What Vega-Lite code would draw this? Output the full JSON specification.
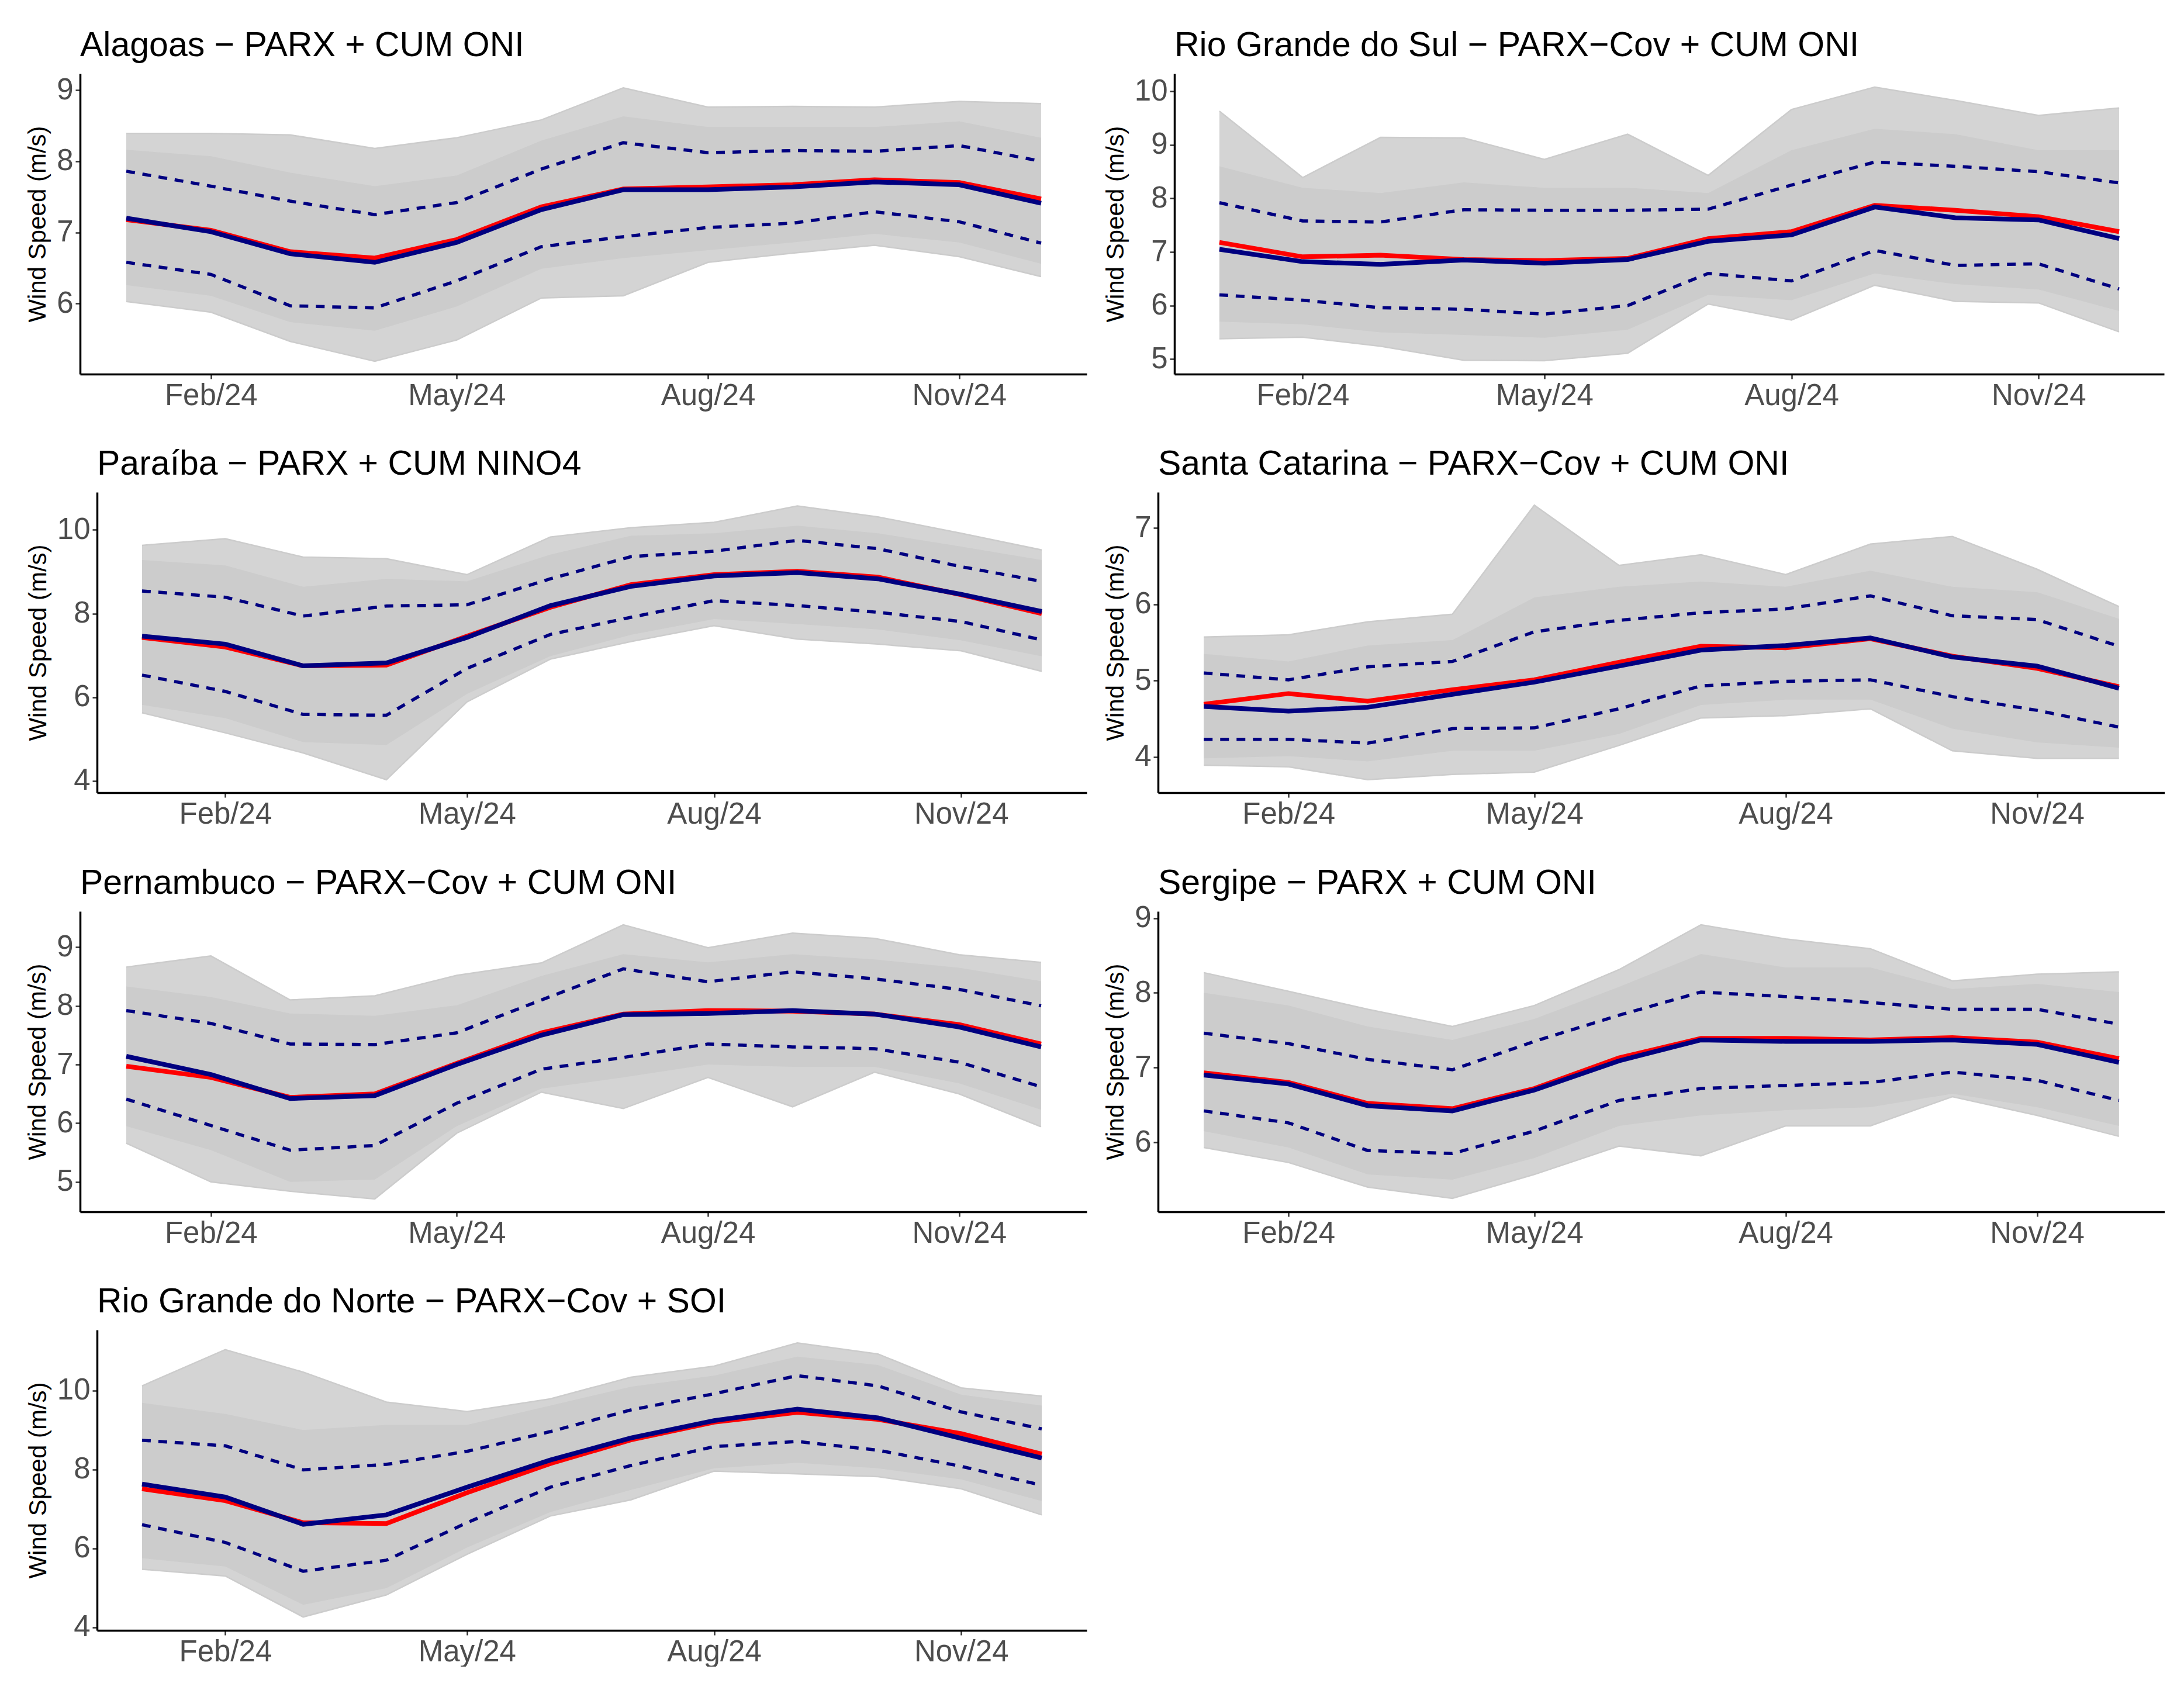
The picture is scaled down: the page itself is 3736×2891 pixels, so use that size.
{
"$schema": "https://vega.github.io/schema/vega-lite/v6.json",
"background": "white",
"padding": {"left": 43, "top": 49, "right": 0, "bottom": 0},
"datasets": {"d": [
{"p":"AL","d":"2024-01-01T00:00:00","mn":6.03,"mx":8.39,"clo":6.26,"chi":8.16,"qlo":6.58,"qhi":7.86,"obs":7.18,"avg":7.20},
{"p":"AL","d":"2024-02-01T00:00:00","mn":5.88,"mx":8.39,"clo":6.11,"chi":8.07,"qlo":6.41,"qhi":7.65,"obs":7.03,"avg":7.01},
{"p":"AL","d":"2024-03-01T00:00:00","mn":5.47,"mx":8.37,"clo":5.74,"chi":7.84,"qlo":5.97,"qhi":7.44,"obs":6.73,"avg":6.70},
{"p":"AL","d":"2024-04-01T00:00:00","mn":5.19,"mx":8.18,"clo":5.62,"chi":7.65,"qlo":5.94,"qhi":7.25,"obs":6.64,"avg":6.58},
{"p":"AL","d":"2024-05-01T00:00:00","mn":5.49,"mx":8.33,"clo":5.96,"chi":7.80,"qlo":6.32,"qhi":7.42,"obs":6.90,"avg":6.86},
{"p":"AL","d":"2024-06-01T00:00:00","mn":6.08,"mx":8.58,"clo":6.49,"chi":8.29,"qlo":6.80,"qhi":7.89,"obs":7.36,"avg":7.32},
{"p":"AL","d":"2024-07-01T00:00:00","mn":6.11,"mx":9.03,"clo":6.64,"chi":8.63,"qlo":6.94,"qhi":8.26,"obs":7.61,"avg":7.60},
{"p":"AL","d":"2024-08-01T00:00:00","mn":6.58,"mx":8.76,"clo":6.75,"chi":8.48,"qlo":7.07,"qhi":8.12,"obs":7.64,"avg":7.60},
{"p":"AL","d":"2024-09-01T00:00:00","mn":6.71,"mx":8.77,"clo":6.86,"chi":8.48,"qlo":7.13,"qhi":8.15,"obs":7.67,"avg":7.64},
{"p":"AL","d":"2024-10-01T00:00:00","mn":6.82,"mx":8.76,"clo":6.98,"chi":8.48,"qlo":7.29,"qhi":8.14,"obs":7.74,"avg":7.71},
{"p":"AL","d":"2024-11-01T00:00:00","mn":6.66,"mx":8.84,"clo":6.86,"chi":8.56,"qlo":7.15,"qhi":8.22,"obs":7.70,"avg":7.67},
{"p":"AL","d":"2024-12-01T00:00:00","mn":6.38,"mx":8.81,"clo":6.56,"chi":8.33,"qlo":6.85,"qhi":8.00,"obs":7.47,"avg":7.41},
{"p":"RS","d":"2024-01-01T00:00:00","mn":5.38,"mx":9.63,"clo":5.70,"chi":8.60,"qlo":6.20,"qhi":7.92,"obs":7.18,"avg":7.05},
{"p":"RS","d":"2024-02-01T00:00:00","mn":5.41,"mx":8.39,"clo":5.65,"chi":8.20,"qlo":6.10,"qhi":7.58,"obs":6.91,"avg":6.82},
{"p":"RS","d":"2024-03-01T00:00:00","mn":5.24,"mx":9.14,"clo":5.50,"chi":8.10,"qlo":5.96,"qhi":7.56,"obs":6.94,"avg":6.77},
{"p":"RS","d":"2024-04-01T00:00:00","mn":4.98,"mx":9.13,"clo":5.45,"chi":8.30,"qlo":5.93,"qhi":7.79,"obs":6.86,"avg":6.85},
{"p":"RS","d":"2024-05-01T00:00:00","mn":4.97,"mx":8.73,"clo":5.40,"chi":8.20,"qlo":5.84,"qhi":7.78,"obs":6.84,"avg":6.79},
{"p":"RS","d":"2024-06-01T00:00:00","mn":5.11,"mx":9.20,"clo":5.55,"chi":8.20,"qlo":6.00,"qhi":7.78,"obs":6.88,"avg":6.86},
{"p":"RS","d":"2024-07-01T00:00:00","mn":6.03,"mx":8.43,"clo":6.20,"chi":8.10,"qlo":6.60,"qhi":7.80,"obs":7.25,"avg":7.20},
{"p":"RS","d":"2024-08-01T00:00:00","mn":5.73,"mx":9.66,"clo":6.10,"chi":8.90,"qlo":6.46,"qhi":8.25,"obs":7.38,"avg":7.32},
{"p":"RS","d":"2024-09-01T00:00:00","mn":6.38,"mx":10.08,"clo":6.60,"chi":9.30,"qlo":7.03,"qhi":8.68,"obs":7.87,"avg":7.84},
{"p":"RS","d":"2024-10-01T00:00:00","mn":6.08,"mx":9.83,"clo":6.40,"chi":9.20,"qlo":6.75,"qhi":8.60,"obs":7.78,"avg":7.64},
{"p":"RS","d":"2024-11-01T00:00:00","mn":6.05,"mx":9.55,"clo":6.30,"chi":8.90,"qlo":6.78,"qhi":8.50,"obs":7.66,"avg":7.60},
{"p":"RS","d":"2024-12-01T00:00:00","mn":5.51,"mx":9.69,"clo":5.90,"chi":8.90,"qlo":6.31,"qhi":8.29,"obs":7.38,"avg":7.25},
{"p":"PB","d":"2024-01-01T00:00:00","mn":5.63,"mx":9.63,"clo":5.82,"chi":9.28,"qlo":6.53,"qhi":8.54,"obs":7.43,"avg":7.46},
{"p":"PB","d":"2024-02-01T00:00:00","mn":5.15,"mx":9.79,"clo":5.50,"chi":9.15,"qlo":6.14,"qhi":8.39,"obs":7.20,"avg":7.27},
{"p":"PB","d":"2024-03-01T00:00:00","mn":4.67,"mx":9.35,"clo":4.93,"chi":8.64,"qlo":5.59,"qhi":7.94,"obs":6.75,"avg":6.75},
{"p":"PB","d":"2024-04-01T00:00:00","mn":4.03,"mx":9.31,"clo":4.86,"chi":8.83,"qlo":5.57,"qhi":8.18,"obs":6.77,"avg":6.82},
{"p":"PB","d":"2024-05-01T00:00:00","mn":5.89,"mx":8.93,"clo":6.08,"chi":8.77,"qlo":6.69,"qhi":8.21,"obs":7.46,"avg":7.43},
{"p":"PB","d":"2024-06-01T00:00:00","mn":6.91,"mx":9.83,"clo":6.98,"chi":9.41,"qlo":7.50,"qhi":8.83,"obs":8.15,"avg":8.19},
{"p":"PB","d":"2024-07-01T00:00:00","mn":7.33,"mx":10.05,"clo":7.49,"chi":9.86,"qlo":7.91,"qhi":9.36,"obs":8.69,"avg":8.65},
{"p":"PB","d":"2024-08-01T00:00:00","mn":7.71,"mx":10.18,"clo":7.87,"chi":9.92,"qlo":8.31,"qhi":9.49,"obs":8.93,"avg":8.90},
{"p":"PB","d":"2024-09-01T00:00:00","mn":7.39,"mx":10.57,"clo":7.75,"chi":10.10,"qlo":8.19,"qhi":9.75,"obs":9.01,"avg":8.98},
{"p":"PB","d":"2024-10-01T00:00:00","mn":7.27,"mx":10.31,"clo":7.62,"chi":9.92,"qlo":8.03,"qhi":9.55,"obs":8.87,"avg":8.83},
{"p":"PB","d":"2024-11-01T00:00:00","mn":7.11,"mx":9.92,"clo":7.36,"chi":9.60,"qlo":7.81,"qhi":9.12,"obs":8.45,"avg":8.46},
{"p":"PB","d":"2024-12-01T00:00:00","mn":6.62,"mx":9.52,"clo":6.98,"chi":9.28,"qlo":7.37,"qhi":8.77,"obs":8.00,"avg":8.05},
{"p":"SC","d":"2024-01-01T00:00:00","mn":3.89,"mx":5.57,"clo":3.98,"chi":5.35,"qlo":4.23,"qhi":5.10,"obs":4.69,"avg":4.66},
{"p":"SC","d":"2024-02-01T00:00:00","mn":3.87,"mx":5.60,"clo":4.01,"chi":5.25,"qlo":4.23,"qhi":5.01,"obs":4.83,"avg":4.60},
{"p":"SC","d":"2024-03-01T00:00:00","mn":3.70,"mx":5.77,"clo":3.94,"chi":5.46,"qlo":4.18,"qhi":5.18,"obs":4.73,"avg":4.65},
{"p":"SC","d":"2024-04-01T00:00:00","mn":3.77,"mx":5.87,"clo":4.08,"chi":5.53,"qlo":4.37,"qhi":5.25,"obs":4.88,"avg":4.82},
{"p":"SC","d":"2024-05-01T00:00:00","mn":3.80,"mx":7.30,"clo":4.08,"chi":6.09,"qlo":4.38,"qhi":5.64,"obs":5.01,"avg":4.98},
{"p":"SC","d":"2024-06-01T00:00:00","mn":4.15,"mx":6.51,"clo":4.30,"chi":6.23,"qlo":4.63,"qhi":5.79,"obs":5.24,"avg":5.19},
{"p":"SC","d":"2024-07-01T00:00:00","mn":4.51,"mx":6.65,"clo":4.68,"chi":6.30,"qlo":4.93,"qhi":5.89,"obs":5.45,"avg":5.40},
{"p":"SC","d":"2024-08-01T00:00:00","mn":4.54,"mx":6.39,"clo":4.75,"chi":6.23,"qlo":4.99,"qhi":5.94,"obs":5.43,"avg":5.46},
{"p":"SC","d":"2024-09-01T00:00:00","mn":4.63,"mx":6.79,"clo":4.75,"chi":6.44,"qlo":5.01,"qhi":6.11,"obs":5.55,"avg":5.56},
{"p":"SC","d":"2024-10-01T00:00:00","mn":4.08,"mx":6.89,"clo":4.37,"chi":6.23,"qlo":4.79,"qhi":5.85,"obs":5.32,"avg":5.31},
{"p":"SC","d":"2024-11-01T00:00:00","mn":3.98,"mx":6.46,"clo":4.19,"chi":6.16,"qlo":4.61,"qhi":5.80,"obs":5.16,"avg":5.19},
{"p":"SC","d":"2024-12-01T00:00:00","mn":3.98,"mx":5.97,"clo":4.12,"chi":5.81,"qlo":4.39,"qhi":5.45,"obs":4.92,"avg":4.90},
{"p":"PE","d":"2024-01-01T00:00:00","mn":5.66,"mx":8.66,"clo":5.95,"chi":8.33,"qlo":6.41,"qhi":7.92,"obs":6.97,"avg":7.14},
{"p":"PE","d":"2024-02-01T00:00:00","mn":5.00,"mx":8.85,"clo":5.54,"chi":8.15,"qlo":5.96,"qhi":7.70,"obs":6.78,"avg":6.83},
{"p":"PE","d":"2024-03-01T00:00:00","mn":4.84,"mx":8.10,"clo":5.00,"chi":7.87,"qlo":5.54,"qhi":7.35,"obs":6.44,"avg":6.42},
{"p":"PE","d":"2024-04-01T00:00:00","mn":4.71,"mx":8.17,"clo":5.04,"chi":7.83,"qlo":5.62,"qhi":7.34,"obs":6.50,"avg":6.47},
{"p":"PE","d":"2024-05-01T00:00:00","mn":5.83,"mx":8.52,"clo":5.95,"chi":8.01,"qlo":6.34,"qhi":7.54,"obs":7.02,"avg":7.00},
{"p":"PE","d":"2024-06-01T00:00:00","mn":6.53,"mx":8.73,"clo":6.59,"chi":8.51,"qlo":6.92,"qhi":8.10,"obs":7.54,"avg":7.50},
{"p":"PE","d":"2024-07-01T00:00:00","mn":6.25,"mx":9.38,"clo":6.78,"chi":8.88,"qlo":7.12,"qhi":8.63,"obs":7.86,"avg":7.85},
{"p":"PE","d":"2024-08-01T00:00:00","mn":6.78,"mx":8.99,"clo":7.00,"chi":8.74,"qlo":7.35,"qhi":8.41,"obs":7.92,"avg":7.87},
{"p":"PE","d":"2024-09-01T00:00:00","mn":6.28,"mx":9.24,"clo":6.96,"chi":8.88,"qlo":7.30,"qhi":8.58,"obs":7.91,"avg":7.92},
{"p":"PE","d":"2024-10-01T00:00:00","mn":6.87,"mx":9.15,"clo":6.96,"chi":8.79,"qlo":7.27,"qhi":8.46,"obs":7.86,"avg":7.86},
{"p":"PE","d":"2024-11-01T00:00:00","mn":6.50,"mx":8.87,"clo":6.68,"chi":8.65,"qlo":7.04,"qhi":8.28,"obs":7.68,"avg":7.64},
{"p":"PE","d":"2024-12-01T00:00:00","mn":5.94,"mx":8.74,"clo":6.23,"chi":8.42,"qlo":6.62,"qhi":8.00,"obs":7.35,"avg":7.30},
{"p":"SE","d":"2024-01-01T00:00:00","mn":5.93,"mx":8.27,"clo":6.15,"chi":8.00,"qlo":6.42,"qhi":7.46,"obs":6.93,"avg":6.90},
{"p":"SE","d":"2024-02-01T00:00:00","mn":5.73,"mx":8.02,"clo":5.93,"chi":7.83,"qlo":6.26,"qhi":7.32,"obs":6.80,"avg":6.78},
{"p":"SE","d":"2024-03-01T00:00:00","mn":5.40,"mx":7.78,"clo":5.57,"chi":7.55,"qlo":5.89,"qhi":7.11,"obs":6.52,"avg":6.49},
{"p":"SE","d":"2024-04-01T00:00:00","mn":5.25,"mx":7.55,"clo":5.50,"chi":7.37,"qlo":5.85,"qhi":6.97,"obs":6.45,"avg":6.42},
{"p":"SE","d":"2024-05-01T00:00:00","mn":5.57,"mx":7.83,"clo":5.79,"chi":7.65,"qlo":6.15,"qhi":7.35,"obs":6.72,"avg":6.70},
{"p":"SE","d":"2024-06-01T00:00:00","mn":5.95,"mx":8.31,"clo":6.22,"chi":8.08,"qlo":6.56,"qhi":7.70,"obs":7.13,"avg":7.09},
{"p":"SE","d":"2024-07-01T00:00:00","mn":5.82,"mx":8.91,"clo":6.36,"chi":8.52,"qlo":6.72,"qhi":8.01,"obs":7.39,"avg":7.37},
{"p":"SE","d":"2024-08-01T00:00:00","mn":6.22,"mx":8.72,"clo":6.43,"chi":8.34,"qlo":6.76,"qhi":7.95,"obs":7.39,"avg":7.35},
{"p":"SE","d":"2024-09-01T00:00:00","mn":6.22,"mx":8.59,"clo":6.47,"chi":8.34,"qlo":6.80,"qhi":7.87,"obs":7.37,"avg":7.35},
{"p":"SE","d":"2024-10-01T00:00:00","mn":6.61,"mx":8.16,"clo":6.65,"chi":8.05,"qlo":6.94,"qhi":7.78,"obs":7.40,"avg":7.37},
{"p":"SE","d":"2024-11-01T00:00:00","mn":6.36,"mx":8.25,"clo":6.47,"chi":8.12,"qlo":6.83,"qhi":7.78,"obs":7.34,"avg":7.31},
{"p":"SE","d":"2024-12-01T00:00:00","mn":6.08,"mx":8.28,"clo":6.22,"chi":8.01,"qlo":6.56,"qhi":7.58,"obs":7.12,"avg":7.07},
{"p":"RN","d":"2024-01-01T00:00:00","mn":5.47,"mx":10.12,"clo":5.75,"chi":9.69,"qlo":6.60,"qhi":8.74,"obs":7.51,"avg":7.63},
{"p":"RN","d":"2024-02-01T00:00:00","mn":5.30,"mx":11.04,"clo":5.54,"chi":9.41,"qlo":6.15,"qhi":8.60,"obs":7.21,"avg":7.30},
{"p":"RN","d":"2024-03-01T00:00:00","mn":4.26,"mx":10.47,"clo":4.57,"chi":9.00,"qlo":5.42,"qhi":7.99,"obs":6.65,"avg":6.61},
{"p":"RN","d":"2024-04-01T00:00:00","mn":4.82,"mx":9.71,"clo":4.99,"chi":9.13,"qlo":5.70,"qhi":8.13,"obs":6.63,"avg":6.85},
{"p":"RN","d":"2024-05-01T00:00:00","mn":5.85,"mx":9.47,"clo":6.02,"chi":9.13,"qlo":6.65,"qhi":8.46,"obs":7.41,"avg":7.55},
{"p":"RN","d":"2024-06-01T00:00:00","mn":6.82,"mx":9.79,"clo":6.92,"chi":9.62,"qlo":7.55,"qhi":8.96,"obs":8.15,"avg":8.24},
{"p":"RN","d":"2024-07-01T00:00:00","mn":7.23,"mx":10.34,"clo":7.48,"chi":10.10,"qlo":8.10,"qhi":9.51,"obs":8.75,"avg":8.80},
{"p":"RN","d":"2024-08-01T00:00:00","mn":7.96,"mx":10.62,"clo":8.03,"chi":10.38,"qlo":8.58,"qhi":9.92,"obs":9.20,"avg":9.24},
{"p":"RN","d":"2024-09-01T00:00:00","mn":7.89,"mx":11.21,"clo":8.17,"chi":10.86,"qlo":8.71,"qhi":10.38,"obs":9.45,"avg":9.53},
{"p":"RN","d":"2024-10-01T00:00:00","mn":7.82,"mx":10.93,"clo":8.03,"chi":10.65,"qlo":8.49,"qhi":10.12,"obs":9.27,"avg":9.31},
{"p":"RN","d":"2024-11-01T00:00:00","mn":7.51,"mx":10.07,"clo":7.75,"chi":9.90,"qlo":8.08,"qhi":9.46,"obs":8.91,"avg":8.79},
{"p":"RN","d":"2024-12-01T00:00:00","mn":6.85,"mx":9.86,"clo":7.20,"chi":9.62,"qlo":7.60,"qhi":9.03,"obs":8.39,"avg":8.29}
]},
"vconcat": [
{"hconcat": [
{"width": 1722, "height": 514, "data": {"name": "d"}, "title": {"text": "Alagoas − PARX + CUM ONI"},
 "transform": [{"filter": "datum.p === 'AL'"}],
 "encoding": {"x": {"field": "d", "type": "temporal", "title": null, "scale": {"domain": [{"year": 2023, "month": 12, "date": 15, "hours": 2}, {"year": 2024, "month": 12, "date": 17, "hours": 17}], "nice": false}, "axis": {"values": [{"year": 2024, "month": 2, "date": 1}, {"year": 2024, "month": 5, "date": 1}, {"year": 2024, "month": 8, "date": 1}, {"year": 2024, "month": 11, "date": 1}], "format": "%b/%y"}}},
 "layer": [
  {"mark": {"type": "area", "color": "#D4D4D4"}, "encoding": {"y": {"field": "mn", "type": "quantitative", "title": "Wind Speed (m/s)", "scale": {"domain": [5.01, 9.23], "nice": false, "zero": false}, "axis": {"values": [5, 6, 7, 8, 9], "format": "d"}}, "y2": {"field": "mx", "title": "Wind Speed (m/s)"}}},
  {"mark": {"type": "line", "color": "#CCCCCC", "strokeWidth": 2.5}, "encoding": {"y": {"field": "mx", "type": "quantitative", "title": "Wind Speed (m/s)"}}},
  {"mark": {"type": "line", "color": "#CCCCCC", "strokeWidth": 2.5}, "encoding": {"y": {"field": "mn", "type": "quantitative", "title": "Wind Speed (m/s)"}}},
  {"mark": {"type": "area", "color": "#CCCCCC"}, "encoding": {"y": {"field": "clo", "type": "quantitative", "title": "Wind Speed (m/s)"}, "y2": {"field": "chi", "title": "Wind Speed (m/s)"}}},
  {"mark": {"type": "line", "color": "#000080", "strokeWidth": 5.5, "strokeDash": [15, 13]}, "encoding": {"y": {"field": "qhi", "type": "quantitative", "title": "Wind Speed (m/s)"}}},
  {"mark": {"type": "line", "color": "#000080", "strokeWidth": 5.5, "strokeDash": [15, 13]}, "encoding": {"y": {"field": "qlo", "type": "quantitative", "title": "Wind Speed (m/s)"}}},
  {"mark": {"type": "line", "color": "#FF0000", "strokeWidth": 8}, "encoding": {"y": {"field": "obs", "type": "quantitative", "title": "Wind Speed (m/s)"}}},
  {"mark": {"type": "line", "color": "#000080", "strokeWidth": 8}, "encoding": {"y": {"field": "avg", "type": "quantitative", "title": "Wind Speed (m/s)"}}}
 ]},
{"width": 1693, "height": 514, "data": {"name": "d"}, "title": {"text": "Rio Grande do Sul − PARX−Cov + CUM ONI"},
 "transform": [{"filter": "datum.p === 'RS'"}],
 "encoding": {"x": {"field": "d", "type": "temporal", "title": null, "scale": {"domain": [{"year": 2023, "month": 12, "date": 15, "hours": 6}, {"year": 2024, "month": 12, "date": 17, "hours": 18}], "nice": false}, "axis": {"values": [{"year": 2024, "month": 2, "date": 1}, {"year": 2024, "month": 5, "date": 1}, {"year": 2024, "month": 8, "date": 1}, {"year": 2024, "month": 11, "date": 1}], "format": "%b/%y"}}},
 "layer": [
  {"mark": {"type": "area", "color": "#D4D4D4"}, "encoding": {"y": {"field": "mn", "type": "quantitative", "title": "Wind Speed (m/s)", "scale": {"domain": [4.72, 10.33], "nice": false, "zero": false}, "axis": {"values": [5, 6, 7, 8, 9, 10], "format": "d"}}, "y2": {"field": "mx", "title": "Wind Speed (m/s)"}}},
  {"mark": {"type": "line", "color": "#CCCCCC", "strokeWidth": 2.5}, "encoding": {"y": {"field": "mx", "type": "quantitative", "title": "Wind Speed (m/s)"}}},
  {"mark": {"type": "line", "color": "#CCCCCC", "strokeWidth": 2.5}, "encoding": {"y": {"field": "mn", "type": "quantitative", "title": "Wind Speed (m/s)"}}},
  {"mark": {"type": "area", "color": "#CCCCCC"}, "encoding": {"y": {"field": "clo", "type": "quantitative", "title": "Wind Speed (m/s)"}, "y2": {"field": "chi", "title": "Wind Speed (m/s)"}}},
  {"mark": {"type": "line", "color": "#000080", "strokeWidth": 5.5, "strokeDash": [15, 13]}, "encoding": {"y": {"field": "qhi", "type": "quantitative", "title": "Wind Speed (m/s)"}}},
  {"mark": {"type": "line", "color": "#000080", "strokeWidth": 5.5, "strokeDash": [15, 13]}, "encoding": {"y": {"field": "qlo", "type": "quantitative", "title": "Wind Speed (m/s)"}}},
  {"mark": {"type": "line", "color": "#FF0000", "strokeWidth": 8}, "encoding": {"y": {"field": "obs", "type": "quantitative", "title": "Wind Speed (m/s)"}}},
  {"mark": {"type": "line", "color": "#000080", "strokeWidth": 8}, "encoding": {"y": {"field": "avg", "type": "quantitative", "title": "Wind Speed (m/s)"}}}
 ]}
], "spacing": 28},
{"hconcat": [
{"width": 1722, "height": 514, "data": {"name": "d"}, "title": {"text": "Paraíba − PARX + CUM NINO4", "dx": 29},
 "transform": [{"filter": "datum.p === 'PB'"}],
 "encoding": {"x": {"field": "d", "type": "temporal", "title": null, "scale": {"domain": [{"year": 2023, "month": 12, "date": 8, "hours": 22, "minutes": 34}, {"year": 2024, "month": 12, "date": 17, "hours": 18}], "nice": false}, "axis": {"domainDash": [0, 29, 3000], "values": [{"year": 2024, "month": 2, "date": 1}, {"year": 2024, "month": 5, "date": 1}, {"year": 2024, "month": 8, "date": 1}, {"year": 2024, "month": 11, "date": 1}], "format": "%b/%y"}}},
 "layer": [
  {"mark": {"type": "area", "color": "#D4D4D4"}, "encoding": {"y": {"field": "mn", "type": "quantitative", "title": "Wind Speed (m/s)", "scale": {"domain": [3.72, 10.9], "nice": false, "zero": false}, "axis": {"values": [4, 6, 8, 10], "format": "d", "offset": -29}}, "y2": {"field": "mx", "title": "Wind Speed (m/s)"}}},
  {"mark": {"type": "line", "color": "#CCCCCC", "strokeWidth": 2.5}, "encoding": {"y": {"field": "mx", "type": "quantitative", "title": "Wind Speed (m/s)"}}},
  {"mark": {"type": "line", "color": "#CCCCCC", "strokeWidth": 2.5}, "encoding": {"y": {"field": "mn", "type": "quantitative", "title": "Wind Speed (m/s)"}}},
  {"mark": {"type": "area", "color": "#CCCCCC"}, "encoding": {"y": {"field": "clo", "type": "quantitative", "title": "Wind Speed (m/s)"}, "y2": {"field": "chi", "title": "Wind Speed (m/s)"}}},
  {"mark": {"type": "line", "color": "#000080", "strokeWidth": 5.5, "strokeDash": [15, 13]}, "encoding": {"y": {"field": "qhi", "type": "quantitative", "title": "Wind Speed (m/s)"}}},
  {"mark": {"type": "line", "color": "#000080", "strokeWidth": 5.5, "strokeDash": [15, 13]}, "encoding": {"y": {"field": "qlo", "type": "quantitative", "title": "Wind Speed (m/s)"}}},
  {"mark": {"type": "line", "color": "#FF0000", "strokeWidth": 8}, "encoding": {"y": {"field": "obs", "type": "quantitative", "title": "Wind Speed (m/s)"}}},
  {"mark": {"type": "line", "color": "#000080", "strokeWidth": 8}, "encoding": {"y": {"field": "avg", "type": "quantitative", "title": "Wind Speed (m/s)"}}}
 ]},
{"width": 1722, "height": 514, "data": {"name": "d"}, "title": {"text": "Santa Catarina − PARX−Cov + CUM ONI"},
 "transform": [{"filter": "datum.p === 'SC'"}],
 "encoding": {"x": {"field": "d", "type": "temporal", "title": null, "scale": {"domain": [{"year": 2023, "month": 12, "date": 15, "hours": 6}, {"year": 2024, "month": 12, "date": 17, "hours": 18}], "nice": false}, "axis": {"values": [{"year": 2024, "month": 2, "date": 1}, {"year": 2024, "month": 5, "date": 1}, {"year": 2024, "month": 8, "date": 1}, {"year": 2024, "month": 11, "date": 1}], "format": "%b/%y"}}},
 "layer": [
  {"mark": {"type": "area", "color": "#D4D4D4"}, "encoding": {"y": {"field": "mn", "type": "quantitative", "title": "Wind Speed (m/s)", "scale": {"domain": [3.53, 7.47], "nice": false, "zero": false}, "axis": {"values": [4, 5, 6, 7], "format": "d"}}, "y2": {"field": "mx", "title": "Wind Speed (m/s)"}}},
  {"mark": {"type": "line", "color": "#CCCCCC", "strokeWidth": 2.5}, "encoding": {"y": {"field": "mx", "type": "quantitative", "title": "Wind Speed (m/s)"}}},
  {"mark": {"type": "line", "color": "#CCCCCC", "strokeWidth": 2.5}, "encoding": {"y": {"field": "mn", "type": "quantitative", "title": "Wind Speed (m/s)"}}},
  {"mark": {"type": "area", "color": "#CCCCCC"}, "encoding": {"y": {"field": "clo", "type": "quantitative", "title": "Wind Speed (m/s)"}, "y2": {"field": "chi", "title": "Wind Speed (m/s)"}}},
  {"mark": {"type": "line", "color": "#000080", "strokeWidth": 5.5, "strokeDash": [15, 13]}, "encoding": {"y": {"field": "qhi", "type": "quantitative", "title": "Wind Speed (m/s)"}}},
  {"mark": {"type": "line", "color": "#000080", "strokeWidth": 5.5, "strokeDash": [15, 13]}, "encoding": {"y": {"field": "qlo", "type": "quantitative", "title": "Wind Speed (m/s)"}}},
  {"mark": {"type": "line", "color": "#FF0000", "strokeWidth": 8}, "encoding": {"y": {"field": "obs", "type": "quantitative", "title": "Wind Speed (m/s)"}}},
  {"mark": {"type": "line", "color": "#000080", "strokeWidth": 8}, "encoding": {"y": {"field": "avg", "type": "quantitative", "title": "Wind Speed (m/s)"}}}
 ]}
], "spacing": 28},
{"hconcat": [
{"width": 1722, "height": 514, "data": {"name": "d"}, "title": {"text": "Pernambuco − PARX−Cov + CUM ONI"},
 "transform": [{"filter": "datum.p === 'PE'"}],
 "encoding": {"x": {"field": "d", "type": "temporal", "title": null, "scale": {"domain": [{"year": 2023, "month": 12, "date": 15, "hours": 2}, {"year": 2024, "month": 12, "date": 17, "hours": 17}], "nice": false}, "axis": {"values": [{"year": 2024, "month": 2, "date": 1}, {"year": 2024, "month": 5, "date": 1}, {"year": 2024, "month": 8, "date": 1}, {"year": 2024, "month": 11, "date": 1}], "format": "%b/%y"}}},
 "layer": [
  {"mark": {"type": "area", "color": "#D4D4D4"}, "encoding": {"y": {"field": "mn", "type": "quantitative", "title": "Wind Speed (m/s)", "scale": {"domain": [4.49, 9.61], "nice": false, "zero": false}, "axis": {"values": [5, 6, 7, 8, 9], "format": "d"}}, "y2": {"field": "mx", "title": "Wind Speed (m/s)"}}},
  {"mark": {"type": "line", "color": "#CCCCCC", "strokeWidth": 2.5}, "encoding": {"y": {"field": "mx", "type": "quantitative", "title": "Wind Speed (m/s)"}}},
  {"mark": {"type": "line", "color": "#CCCCCC", "strokeWidth": 2.5}, "encoding": {"y": {"field": "mn", "type": "quantitative", "title": "Wind Speed (m/s)"}}},
  {"mark": {"type": "area", "color": "#CCCCCC"}, "encoding": {"y": {"field": "clo", "type": "quantitative", "title": "Wind Speed (m/s)"}, "y2": {"field": "chi", "title": "Wind Speed (m/s)"}}},
  {"mark": {"type": "line", "color": "#000080", "strokeWidth": 5.5, "strokeDash": [15, 13]}, "encoding": {"y": {"field": "qhi", "type": "quantitative", "title": "Wind Speed (m/s)"}}},
  {"mark": {"type": "line", "color": "#000080", "strokeWidth": 5.5, "strokeDash": [15, 13]}, "encoding": {"y": {"field": "qlo", "type": "quantitative", "title": "Wind Speed (m/s)"}}},
  {"mark": {"type": "line", "color": "#FF0000", "strokeWidth": 8}, "encoding": {"y": {"field": "obs", "type": "quantitative", "title": "Wind Speed (m/s)"}}},
  {"mark": {"type": "line", "color": "#000080", "strokeWidth": 8}, "encoding": {"y": {"field": "avg", "type": "quantitative", "title": "Wind Speed (m/s)"}}}
 ]},
{"width": 1722, "height": 514, "data": {"name": "d"}, "title": {"text": "Sergipe − PARX + CUM ONI", "offset": 4},
 "transform": [{"filter": "datum.p === 'SE'"}],
 "encoding": {"x": {"field": "d", "type": "temporal", "title": null, "scale": {"domain": [{"year": 2023, "month": 12, "date": 15, "hours": 6}, {"year": 2024, "month": 12, "date": 17, "hours": 18}], "nice": false}, "axis": {"values": [{"year": 2024, "month": 2, "date": 1}, {"year": 2024, "month": 5, "date": 1}, {"year": 2024, "month": 8, "date": 1}, {"year": 2024, "month": 11, "date": 1}], "format": "%b/%y"}}},
 "layer": [
  {"mark": {"type": "area", "color": "#D4D4D4"}, "encoding": {"y": {"field": "mn", "type": "quantitative", "title": "Wind Speed (m/s)", "scale": {"domain": [5.07, 9.09], "nice": false, "zero": false}, "axis": {"values": [6, 7, 8, 9], "format": "d"}}, "y2": {"field": "mx", "title": "Wind Speed (m/s)"}}},
  {"mark": {"type": "line", "color": "#CCCCCC", "strokeWidth": 2.5}, "encoding": {"y": {"field": "mx", "type": "quantitative", "title": "Wind Speed (m/s)"}}},
  {"mark": {"type": "line", "color": "#CCCCCC", "strokeWidth": 2.5}, "encoding": {"y": {"field": "mn", "type": "quantitative", "title": "Wind Speed (m/s)"}}},
  {"mark": {"type": "area", "color": "#CCCCCC"}, "encoding": {"y": {"field": "clo", "type": "quantitative", "title": "Wind Speed (m/s)"}, "y2": {"field": "chi", "title": "Wind Speed (m/s)"}}},
  {"mark": {"type": "line", "color": "#000080", "strokeWidth": 5.5, "strokeDash": [15, 13]}, "encoding": {"y": {"field": "qhi", "type": "quantitative", "title": "Wind Speed (m/s)"}}},
  {"mark": {"type": "line", "color": "#000080", "strokeWidth": 5.5, "strokeDash": [15, 13]}, "encoding": {"y": {"field": "qlo", "type": "quantitative", "title": "Wind Speed (m/s)"}}},
  {"mark": {"type": "line", "color": "#FF0000", "strokeWidth": 8}, "encoding": {"y": {"field": "obs", "type": "quantitative", "title": "Wind Speed (m/s)"}}},
  {"mark": {"type": "line", "color": "#000080", "strokeWidth": 8}, "encoding": {"y": {"field": "avg", "type": "quantitative", "title": "Wind Speed (m/s)"}}}
 ]}
], "spacing": 28},
{"hconcat": [
{"width": 1722, "height": 514, "data": {"name": "d"}, "title": {"text": "Rio Grande do Norte − PARX−Cov + SOI", "dx": 29},
 "transform": [{"filter": "datum.p === 'RN'"}],
 "encoding": {"x": {"field": "d", "type": "temporal", "title": null, "scale": {"domain": [{"year": 2023, "month": 12, "date": 8, "hours": 22, "minutes": 34}, {"year": 2024, "month": 12, "date": 17, "hours": 18}], "nice": false}, "axis": {"domainDash": [0, 29, 3000], "values": [{"year": 2024, "month": 2, "date": 1}, {"year": 2024, "month": 5, "date": 1}, {"year": 2024, "month": 8, "date": 1}, {"year": 2024, "month": 11, "date": 1}], "format": "%b/%y"}}},
 "layer": [
  {"mark": {"type": "area", "color": "#D4D4D4"}, "encoding": {"y": {"field": "mn", "type": "quantitative", "title": "Wind Speed (m/s)", "scale": {"domain": [3.92, 11.54], "nice": false, "zero": false}, "axis": {"values": [4, 6, 8, 10], "format": "d", "offset": -29}}, "y2": {"field": "mx", "title": "Wind Speed (m/s)"}}},
  {"mark": {"type": "line", "color": "#CCCCCC", "strokeWidth": 2.5}, "encoding": {"y": {"field": "mx", "type": "quantitative", "title": "Wind Speed (m/s)"}}},
  {"mark": {"type": "line", "color": "#CCCCCC", "strokeWidth": 2.5}, "encoding": {"y": {"field": "mn", "type": "quantitative", "title": "Wind Speed (m/s)"}}},
  {"mark": {"type": "area", "color": "#CCCCCC"}, "encoding": {"y": {"field": "clo", "type": "quantitative", "title": "Wind Speed (m/s)"}, "y2": {"field": "chi", "title": "Wind Speed (m/s)"}}},
  {"mark": {"type": "line", "color": "#000080", "strokeWidth": 5.5, "strokeDash": [15, 13]}, "encoding": {"y": {"field": "qhi", "type": "quantitative", "title": "Wind Speed (m/s)"}}},
  {"mark": {"type": "line", "color": "#000080", "strokeWidth": 5.5, "strokeDash": [15, 13]}, "encoding": {"y": {"field": "qlo", "type": "quantitative", "title": "Wind Speed (m/s)"}}},
  {"mark": {"type": "line", "color": "#FF0000", "strokeWidth": 8}, "encoding": {"y": {"field": "obs", "type": "quantitative", "title": "Wind Speed (m/s)"}}},
  {"mark": {"type": "line", "color": "#000080", "strokeWidth": 8}, "encoding": {"y": {"field": "avg", "type": "quantitative", "title": "Wind Speed (m/s)"}}}
 ]}
], "spacing": 28}
],
"spacing": 63,
"config": {
 "font": "Liberation Sans",
 "view": {"stroke": null},
 "axis": {"grid": false, "domainColor": "black", "domainWidth": 3.5, "tickColor": "#333333", "tickWidth": 2.5, "tickSize": 8, "labelFont": "Liberation Sans", "labelFontSize": 51, "labelColor": "#4D4D4D", "labelPadding": 4, "labelOverlap": false, "titleFont": "Liberation Sans", "titleFontSize": 42, "titleFontWeight": "normal", "titleColor": "black", "titlePadding": 10},
 "title": {"anchor": "start", "frame": "group", "font": "Liberation Sans", "fontSize": 59, "fontWeight": "normal", "color": "black", "offset": 18}
}
}
